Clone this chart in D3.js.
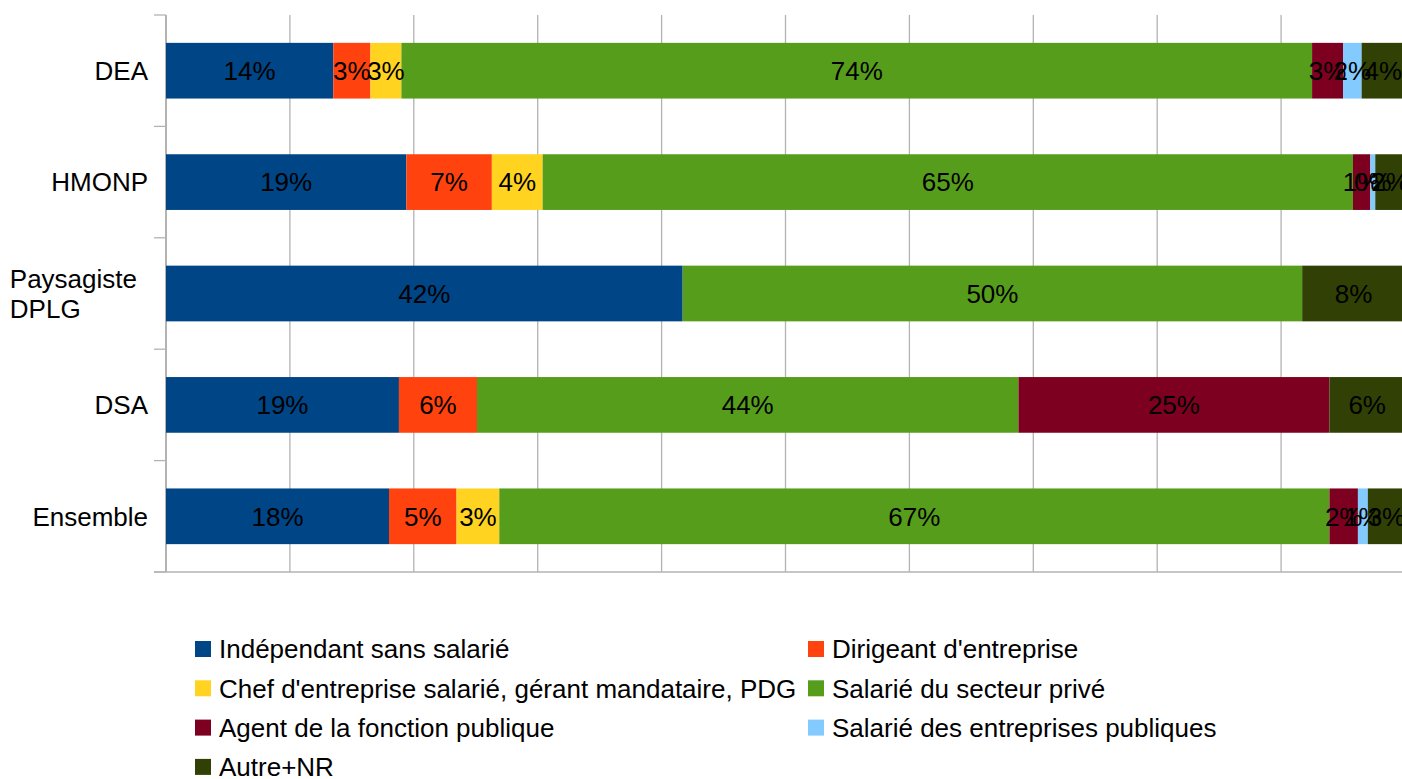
<!DOCTYPE html>
<html>
<head>
<meta charset="utf-8">
<script src="https://cdn.jsdelivr.net/npm/d3@7"></script>
<style>
  body { margin: 0; background: #fff; }
  text { font-family: "Liberation Sans", Arial, sans-serif; }
</style>
</head>
<body>
<div id="chart"></div>
<script>
// categories (top to bottom)
var categories = ['DEA', 'HMONP', 'Paysagiste DPLG', 'DSA', 'Ensemble'];
var series = ['Indépendant sans salarié', "Dirigeant d'entreprise",
  'Chef d\'entreprise salarié, gérant mandataire, PDG', 'Salarié du secteur privé',
  'Agent de la fonction publique', 'Salarié des entreprises publiques', 'Autre+NR'];
var colors = ['#004586', '#ff420e', '#ffd320', '#579d1c', '#7e0021', '#83caff', '#314004'];

// values in % (one array per category, same order as series)
var dea        = [13.5, 3.0, 2.5, 73.5, 2.5, 1.5, 3.5];
var hmonp      = [19.4, 6.9, 4.1, 65.4, 1.4, 0.4, 2.4];
var paysagiste = [41.7, 0, 0, 50.0, 0, 0, 8.3];
var dsa        = [18.8, 6.3, 0, 43.7, 25.1, 0, 6.1];
var ensemble   = [18.0, 5.45, 3.45, 67.0, 2.3, 0.8, 3.0];
var ticks = [0, 10, 20, 30, 40, 50, 60, 70, 80, 90, 100];

var rows = [dea, hmonp, paysagiste, dsa, ensemble];

var w = 1402, h = 779;
var margin = {top: 15, left: 166};
var plotW = 1239, plotH = 557;
var fontSize = '26px';

var svg = d3.select('#chart').append('svg')
    .attr('width', w)
    .attr('height', h);

var x = d3.scaleLinear().domain([0, 100]).range([margin.left, margin.left + plotW]);
var y = d3.scaleBand().domain(categories)
    .range([margin.top, margin.top + plotH])
    .paddingInner(0.5).paddingOuter(0.25);

// gridlines
svg.append('g').selectAll('line')
    .data(ticks)
  .enter().append('line')
    .attr('x1', function(d) { return x(d); })
    .attr('x2', function(d) { return x(d); })
    .attr('y1', margin.top)
    .attr('y2', margin.top + plotH)
    .attr('stroke', '#b3b3b3')
    .attr('stroke-width', 1.3);

// category separator ticks on the left axis
var sep = d3.range(categories.length + 1).map(function(i) { return margin.top + i * plotH / categories.length; });
svg.append('g').selectAll('line')
    .data(sep)
  .enter().append('line')
    .attr('x1', margin.left - 12)
    .attr('x2', margin.left)
    .attr('y1', function(d) { return d; })
    .attr('y2', function(d) { return d; })
    .attr('stroke', '#b3b3b3')
    .attr('stroke-width', 1.3);
svg.append('line')
    .attr('x1', margin.left - 12).attr('x2', margin.left + plotW)
    .attr('y1', margin.top + plotH).attr('y2', margin.top + plotH)
    .attr('stroke', '#b3b3b3').attr('stroke-width', 1.3);
svg.append('line')
    .attr('x1', margin.left).attr('x2', margin.left)
    .attr('y1', margin.top).attr('y2', margin.top + plotH)
    .attr('stroke', '#b3b3b3').attr('stroke-width', 2);

// build segments
var segs = [];
rows.forEach(function(r, i) {
  var acc = 0;
  r.forEach(function(v, j) {
    if (v > 0) segs.push({cat: categories[i], s: j, x0: acc, x1: acc + v, v: v});
    acc += v;
  });
});

svg.append('g').selectAll('rect')
    .data(segs)
  .enter().append('rect')
    .attr('x', function(d) { return x(d.x0); })
    .attr('y', function(d) { return y(d.cat); })
    .attr('width', function(d) { return x(d.x1) - x(d.x0); })
    .attr('height', y.bandwidth())
    .attr('fill', function(d) { return colors[d.s]; });

svg.append('g').selectAll('text')
    .data(segs)
  .enter().append('text')
    .attr('x', function(d) { return (x(d.x0) + x(d.x1)) / 2; })
    .attr('y', function(d) { return y(d.cat) + y.bandwidth() / 2; })
    .attr('dy', '0.36em')
    .attr('text-anchor', 'middle')
    .style('font-size', fontSize)
    .attr('fill', '#000')
    .text(function(d) { return Math.round(d.v) + '%'; });

// category labels
var labelRight = margin.left - 18;
var catLabels = svg.append('g').selectAll('text')
    .data(categories)
  .enter().append('text')
    .style('font-size', fontSize)
    .attr('fill', '#000');
catLabels.each(function(d) {
  var t = d3.select(this);
  var parts = d.split(' ');
  var cy = y(d) + y.bandwidth() / 2;
  if (parts.length === 1) {
    t.attr('x', labelRight).attr('y', cy).attr('dy', '0.36em')
      .attr('text-anchor', 'end').text(d);
  } else {
    var lineH = 30;
    parts.forEach(function(p, k) {
      t.append('tspan')
        .attr('y', cy + (k - (parts.length - 1) / 2) * lineH)
        .attr('dy', '0.36em')
        .text(p);
    });
    var maxW = 0;
    t.selectAll('tspan').each(function() { maxW = Math.max(maxW, this.getComputedTextLength()); });
    t.selectAll('tspan').attr('x', labelRight - 11 - maxW);
  }
});

// legend
var legend = svg.append('g').selectAll('g')
    .data(series)
  .enter().append('g')
    .attr('transform', function(d, i) {
      var col = i % 2, row = Math.floor(i / 2);
      return 'translate(' + [col === 0 ? 195 : 808, 649 + row * 39.3] + ')';
    });
legend.append('rect')
    .attr('x', 0).attr('y', -8)
    .attr('width', 16).attr('height', 16)
    .attr('fill', function(d, i) { return colors[i]; });
legend.append('text')
    .attr('x', 24)
    .attr('dy', '0.36em')
    .style('font-size', fontSize)
    .attr('fill', '#000')
    .text(function(d) { return d; });
</script>
</body>
</html>
